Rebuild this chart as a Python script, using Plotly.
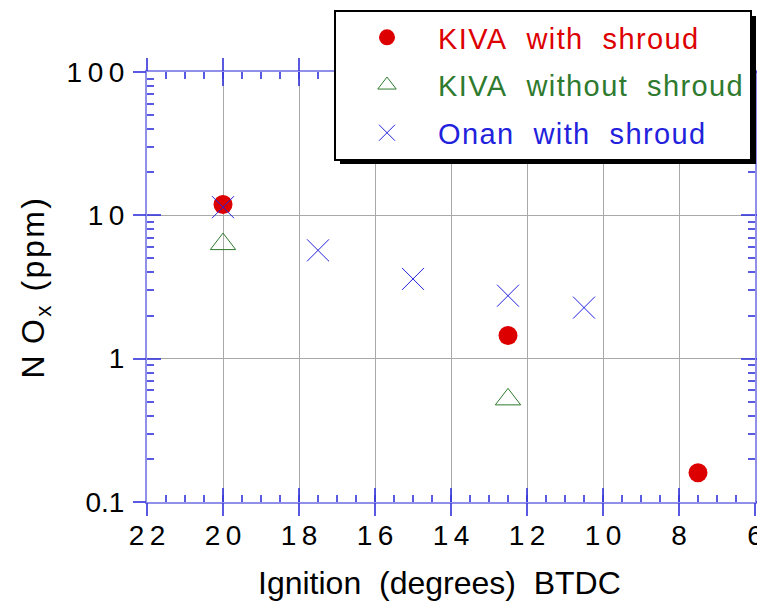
import plotly.graph_objects as go

# ---- data ----
kiva_shroud_x = [20, 12.5, 7.5]
kiva_shroud_y = [11.9, 1.45, 0.16]
kiva_noshroud_x = [20, 12.5]
kiva_noshroud_y = [6.3, 0.52]
onan_x = [20, 17.5, 15, 12.5, 10.5]
onan_y = [11.4, 5.7, 3.6, 2.75, 2.27]

x_tickvals = [22, 20, 18, 16, 14, 12, 10, 8, 6]
x_ticktext = ["2\u20092", "2\u20090", "1\u20098", "1\u20096", "1\u20094", "1\u20092", "1\u20090", "8", "6"]
y_tickvals = [0.1, 1, 10, 100]
y_ticktext = ["0.1", "1", "1\u20090", "1\u20090\u20090"]
y_minor = [m * 10 ** e for e in (-1, 0, 1) for m in range(2, 10)]

RED = "#dd0000"
GREEN = "#2e7a2e"
BLUE = "#2222dd"
AXC = "rgba(70,70,220,0.6)"
TKC = "rgba(60,60,220,0.85)"
FONT = "Liberation Sans, Arial, sans-serif"
S = "\u00a0\u00a0"
LS = "letter-spacing:1.4px"

fig = go.Figure()
fig.add_trace(go.Scatter(
    x=kiva_shroud_x, y=kiva_shroud_y, mode="markers", legendgroup="a",
    name=f'<span style="color:{RED};{LS}">KIVA{S}with{S}shroud</span>',
    marker=dict(symbol="circle", size=19, color=RED, line=dict(width=0)),
    xaxis="x", yaxis="y"))
fig.add_trace(go.Scatter(
    x=kiva_noshroud_x, y=kiva_noshroud_y, mode="markers", legendgroup="b",
    name=f'<span style="color:{GREEN};{LS}">KIVA{S}without{S}shroud</span>',
    marker=dict(symbol="triangle-up-open", size=22, color=GREEN, line=dict(width=1, color=GREEN)),
    xaxis="x2", yaxis="y2"))
fig.add_trace(go.Scatter(
    x=onan_x, y=onan_y, mode="markers", legendgroup="c",
    name=f'<span style="color:{BLUE};{LS}">Onan{S}with{S}shroud</span>',
    marker=dict(symbol="x-thin-open", size=22, color=BLUE, line=dict(width=1, color=BLUE)),
    xaxis="x", yaxis="y"))

common_x = dict(range=[22, 6], tickmode="array", tickvals=x_tickvals, zeroline=False, automargin=False)
common_y = dict(type="log", range=[-1, 2], tickmode="array", tickvals=y_tickvals, zeroline=False, automargin=False)

fig.update_layout(
    width=757, height=604,
    margin=dict(l=147, r=2, t=72, b=102),
    paper_bgcolor="white", plot_bgcolor="white",
    font=dict(family=FONT, size=28, color="black"),
    showlegend=True,
    legend=dict(
        x=(334 - 147) / 608, y=(502 - 10) / 430, xanchor="left", yanchor="top",
        bgcolor="white", bordercolor="black", borderwidth=2,
        font=dict(family=FONT, size=29),
        traceorder="grouped", tracegroupgap=7, itemwidth=92,
    ),
    xaxis=dict(
        **common_x, ticktext=x_ticktext,
        ticks="inside", ticklen=14, tickwidth=1.5, tickcolor=TKC,
        showline=True, linecolor=AXC, linewidth=2, mirror="ticks",
        showgrid=True, gridcolor="#a8a8a8", gridwidth=1,
        minor=dict(ticks="inside", ticklen=7, tickwidth=1.5, tickcolor=TKC, dtick=0.5, showgrid=False),
        tickfont=dict(size=28), ticklabelstandoff=7, ticklabeloverflow="allow",
    ),
    yaxis=dict(
        **common_y, ticktext=y_ticktext,
        ticks="inside", ticklen=14, tickwidth=1.5, tickcolor=TKC,
        showline=True, linecolor=AXC, linewidth=2, mirror="ticks",
        showgrid=True, gridcolor="#a8a8a8", gridwidth=1,
        minor=dict(ticks="inside", ticklen=7, tickwidth=1.5, tickcolor=TKC,
                   tickmode="array", tickvals=y_minor, showgrid=False),
        tickfont=dict(size=28), ticklabelstandoff=15,
        title=dict(text='<span style="letter-spacing:2.5px">N\u2009O<sub>x</sub>\u00a0(ppm)</span>',
                   font=dict(size=32), standoff=12),
    ),
    xaxis2=dict(
        **common_x, overlaying="x", anchor="y2", side="bottom",
        ticks="outside", ticklen=13, tickwidth=1.5, tickcolor=TKC,
        showticklabels=False, showline=False, mirror="ticks", showgrid=False,
    ),
    yaxis2=dict(
        **common_y, overlaying="y", anchor="x2", side="left",
        ticks="outside", ticklen=13, tickwidth=1.5, tickcolor=TKC,
        showticklabels=False, showline=False, mirror="ticks", showgrid=False,
    ),
)

# x-axis title (placed as annotation so it can sit slightly left of centre, as in the original)
fig.add_annotation(text=f"Ignition{S}(degrees){S}BTDC", xref="paper", yref="paper",
                   x=(439 - 147) / 608, y=(502 - 583) / 430, xanchor="center", yanchor="middle",
                   showarrow=False, font=dict(family=FONT, size=32, color="black"))

# legend drop shadow
fig.add_shape(type="rect", xref="paper", yref="paper",
              x0=(340 - 147) / 608, x1=(756 - 147) / 608,
              y0=(502 - 164) / 430, y1=(502 - 16) / 430,
              fillcolor="black", line=dict(width=0), layer="above")

fig.write_html("out.html")
